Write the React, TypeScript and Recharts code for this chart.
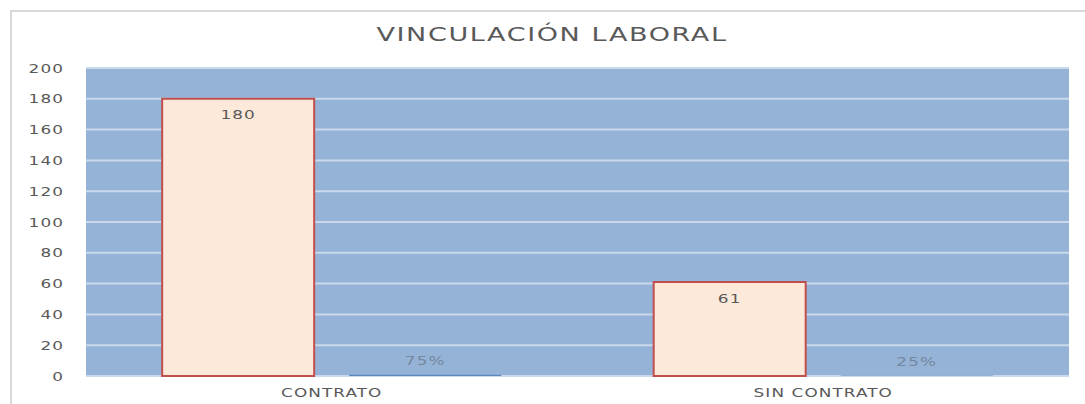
import React from 'react';
import { BarChart, Bar, XAxis, YAxis, CartesianGrid, LabelList } from 'recharts';

// Chart values
const categories = ['CONTRATO', 'SIN CONTRATO'];
const counts = [180, 61];
const shares = [0.75, 0.25];
const yTicks = [0, 20, 40, 60, 80, 100, 120, 140, 160, 180, 200];

const chartData = categories.map((name, i) => ({
    name,
    count: counts[i],
    share: shares[i],
}));

const TEXT = '#595959';
const FONT = '"DejaVu Sans", sans-serif';
const STRETCH = 1.35; // the source picture is stretched sideways

// Text drawn wider than the font, anchored at (x, y)
const WideText = ({
    x,
    y,
    anchor = 'middle',
    fill = TEXT,
    size = 12.5,
    children,
}: {
    x: number;
    y: number;
    anchor?: 'start' | 'middle' | 'end';
    fill?: string;
    size?: number;
    children: React.ReactNode;
}) => (
    <g transform={`translate(${x},${y})`}>
        <text
            transform={`scale(${STRETCH},1)`}
            fill={fill}
            fontSize={size}
            fontFamily={FONT}
            letterSpacing={0.8}
            textAnchor={anchor}
            dominantBaseline="central"
        >
            {children}
        </text>
    </g>
);

const XTick = (props: any) => {
    const { x, y, payload } = props;
    return (
        <WideText x={x} y={y + 10}>
            {payload.value}
        </WideText>
    );
};

const YTick = (props: any) => {
    const { x, y, payload } = props;
    return (
        <WideText x={x} y={y} anchor="end">
            {payload.value}
        </WideText>
    );
};

const renderCountLabel = (props: any) => {
    const { x, y, width, value } = props;
    return (
        <WideText x={x + width / 2} y={y + 16}>
            {value}
        </WideText>
    );
};

const renderShareLabel = (props: any) => {
    const { x, y, width, index } = props;
    return (
        <WideText x={x + width / 2} y={y - 14} fill="#74879f">
            {`${Math.round(shares[index] * 100)}%`}
        </WideText>
    );
};

export default function App() {
    return (
        <div
            style={{
                position: 'absolute',
                left: 0,
                top: 0,
                width: 1085,
                height: 404,
                background: '#fff',
                overflow: 'hidden',
            }}
        >
            {/* outer chart frame */}
            <div
                style={{
                    position: 'absolute',
                    left: 10,
                    top: 10,
                    width: 1085,
                    height: 404,
                    borderLeft: '2px solid #d9d9d9',
                    borderTop: '2px solid #d9d9d9',
                }}
            />
            <div
                style={{
                    position: 'absolute',
                    left: 0,
                    width: 1104,
                    top: 22,
                    textAlign: 'center',
                    fontFamily: FONT,
                    fontSize: 20,
                    letterSpacing: 1.2,
                    color: TEXT,
                    whiteSpace: 'pre',
                    transform: `scaleX(${STRETCH})`,
                    transformOrigin: '552px 0',
                }}
            >
                {'VINCULACIÓN LABORAL'}
            </div>
            <div style={{ position: 'absolute', left: 0, top: 0 }}>
                <BarChart
                    width={1085}
                    height={404}
                    data={chartData}
                    margin={{ top: 68, right: 16, bottom: 0, left: 10 }}
                    barCategoryGap="15.5%"
                    barGap={35}
                >
                    <CartesianGrid
                        vertical={false}
                        fill="#95b3d7"
                        fillOpacity={1}
                        stroke="#c9d8ea"
                        strokeWidth={2}
                    />
                    <XAxis
                        dataKey="name"
                        axisLine={false}
                        tickLine={false}
                        height={28}
                        tickMargin={0}
                        tick={<XTick />}
                    />
                    <YAxis
                        domain={[0, 200]}
                        ticks={yTicks}
                        axisLine={false}
                        tickLine={false}
                        width={76}
                        tickMargin={16}
                        tick={<YTick />}
                    />
                    <Bar
                        dataKey="count"
                        fill="#fde9d9"
                        stroke="#c0504d"
                        strokeWidth={2}
                        isAnimationActive={false}
                    >
                        <LabelList dataKey="count" content={renderCountLabel} />
                    </Bar>
                    <Bar dataKey="share" fill="#5f87bd" isAnimationActive={false}>
                        <LabelList dataKey="share" content={renderShareLabel} />
                    </Bar>
                </BarChart>
            </div>
        </div>
    );
}
